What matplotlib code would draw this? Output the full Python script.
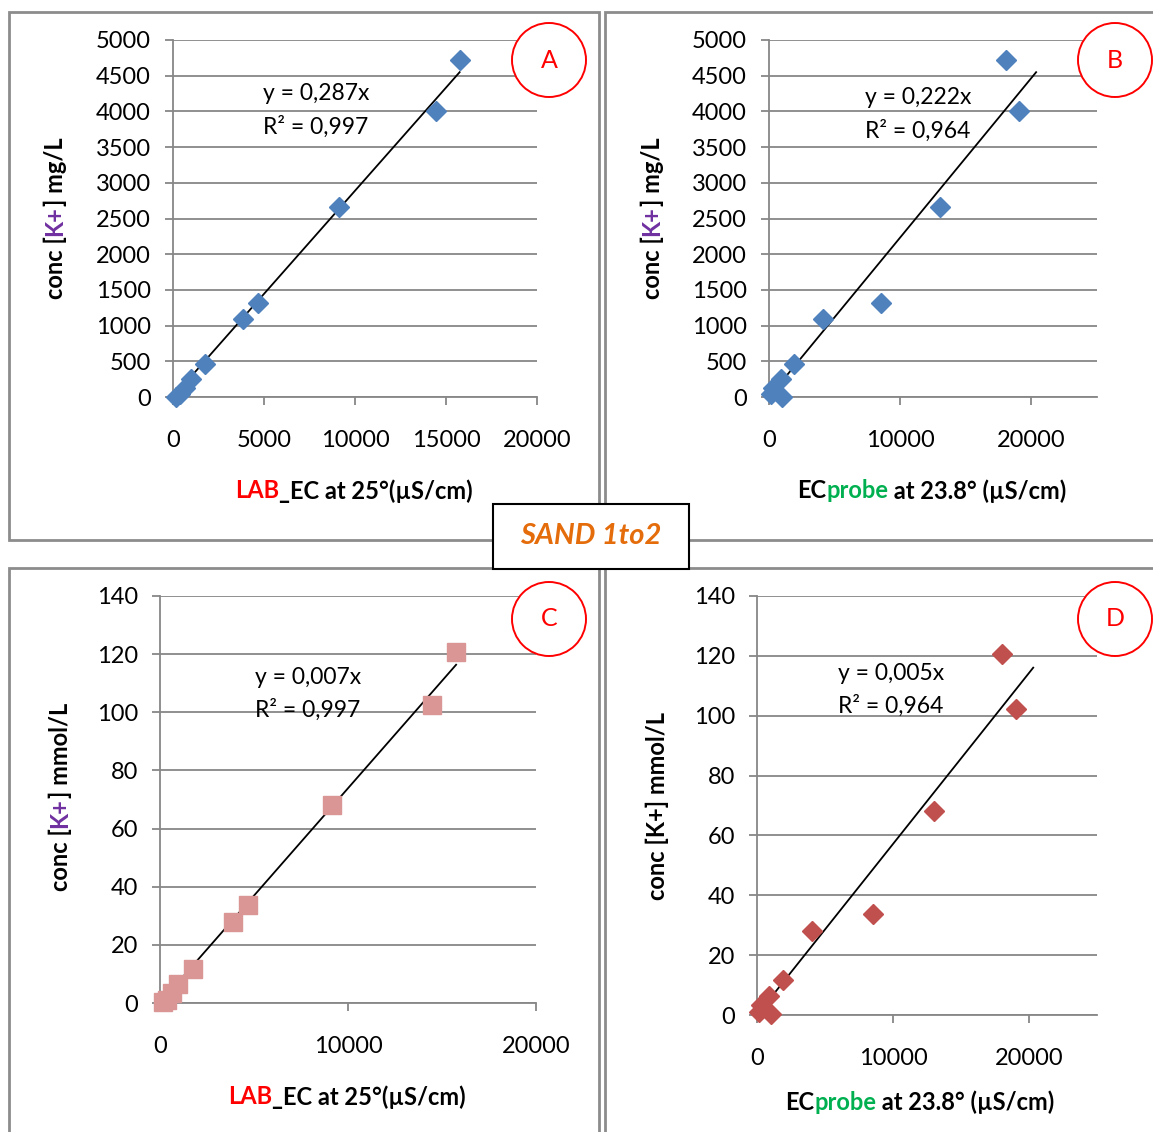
import numpy as np
import matplotlib
matplotlib.use('Agg')
import matplotlib.pyplot as plt
from matplotlib.patches import Rectangle, Ellipse

# data (same samples, two EC methods)
lab_ec = [15750, 14460, 9130, 4670, 3860, 1760, 980, 650, 380, 170]
probe_ec = [18050, 19060, 13040, 8500, 4080, 1880, 890, 330, 150, 1000]
k_mg = [4720, 4006, 2661, 1317, 1092, 462, 252, 130, 40, 5]
k_mmol = [120.7, 102.4, 68.1, 33.7, 28.0, 11.8, 6.4, 3.3, 1.0, 0.2]

eq_labels = {
    'A': ('y = 0,287x', 'R² = 0,997'),
    'B': ('y = 0,222x', 'R² = 0,964'),
    'C': ('y = 0,007x', 'R² = 0,997'),
    'D': ('y = 0,005x', 'R² = 0,964'),
}
# excel "forecast forward" on the probe trendlines
forward = {'A': 0, 'B': 1300, 'C': 0, 'D': 1250}

GRID = '#878787'
FRAME = '#8c8c8c'
PURPLE = '#7030A0'
GREEN = '#00B050'
RED = '#FF0000'

plt.rcParams['font.family'] = ['Lato', 'DejaVu Sans']

W, H = 1153, 1132
fig = plt.figure(figsize=(W / 100, H / 100), dpi=100)
renderer = fig.canvas.get_renderer()


def fx(px):
    return px / W


def fy(py):
    return 1 - py / H


def make_axes(left, top, right, bottom):
    ax = fig.add_axes([fx(left), fy(bottom), (right - left) / W, (bottom - top) / H])
    ax.set_facecolor('none')
    for side in ['top', 'right']:
        ax.spines[side].set_visible(False)
    for side in ['left', 'bottom']:
        ax.spines[side].set_color(GRID)
        ax.spines[side].set_linewidth(1.3)
    ax.grid(axis='y', color=GRID, linewidth=1.3)
    ax.set_axisbelow(True)
    ax.tick_params(direction='out', length=6, width=1.3, color=GRID, labelsize=17)
    ax.tick_params(axis='x', pad=18)
    ax.tick_params(axis='y', pad=10)
    return ax


def text_width(s, **props):
    # width incl. spaces, measured between two bars
    t1 = fig.text(0, 0, '|' + s + '|', **props)
    t2 = fig.text(0, 0, '||', **props)
    w = t1.get_window_extent(renderer).width - t2.get_window_extent(renderer).width
    t1.remove()
    t2.remove()
    return w


def rich_text(x, y, parts, rotation=0, size=17):
    props = dict(fontsize=size, fontweight='bold')
    widths = [text_width(s, **props) for s, _ in parts]
    pos = -sum(widths) / 2
    for (s, c), w in zip(parts, widths):
        if rotation == 0:
            px, py = x + pos, y
        else:
            px, py = x, y - pos
        fig.text(fx(px), fy(py), s, color=c, rotation=rotation, rotation_mode='anchor',
                 ha='left', va='center', **props)
        pos += w


def trendline(ax, x, y, ahead=0):
    x = np.array(x, dtype=float)
    y = np.array(y, dtype=float)
    slope = np.sum(x * y) / np.sum(x * x)
    xs = np.array([x.min(), x.max() + ahead])
    ax.plot(xs, slope * xs, color='black', linewidth=1.3, zorder=3, clip_on=False)


# panel frames
for (l, t, r, b) in [(9, 12, 599, 540), (605, 12, 1165, 540),
                     (9, 568, 599, 1145), (605, 568, 1165, 1145)]:
    fig.add_artist(Rectangle((fx(l), fy(b)), (r - l) / W, (b - t) / H, transform=fig.transFigure,
                             fill=False, edgecolor=FRAME, linewidth=2, zorder=0))

# A: lab EC vs mg/L
axA = make_axes(173, 40, 537, 397)
axA.plot(lab_ec, k_mg, 'D', color='#4F81BD', markersize=10, clip_on=False, zorder=4)
trendline(axA, lab_ec, k_mg, forward['A'])
axA.set_xlim(0, 20000)
axA.set_ylim(0, 5000)
axA.set_xticks(np.arange(0, 20001, 5000))
axA.set_yticks(np.arange(0, 5001, 500))

# B: probe EC vs mg/L
axB = make_axes(769, 40, 1097, 397)
axB.plot(probe_ec, k_mg, 'D', color='#4F81BD', markersize=10, clip_on=False, zorder=4)
trendline(axB, probe_ec, k_mg, forward['B'])
axB.set_xlim(0, 25000)
axB.set_ylim(0, 5000)
axB.set_xticks([0, 10000, 20000])
axB.set_yticks(np.arange(0, 5001, 500))

# C: lab EC vs mmol/L
axC = make_axes(160, 596, 536, 1003)
axC.plot(lab_ec, k_mmol, 's', color='#D99694', markersize=13.5, clip_on=False, zorder=4)
trendline(axC, lab_ec, k_mmol, forward['C'])
axC.set_xlim(0, 20000)
axC.set_ylim(0, 140)
axC.set_xticks([0, 10000, 20000])
axC.set_yticks(np.arange(0, 141, 20))

# D: probe EC vs mmol/L
axD = make_axes(757, 596, 1097, 1015)
axD.plot(probe_ec, k_mmol, 'D', color='#C0504D', markersize=10.5, clip_on=False, zorder=4)
trendline(axD, probe_ec, k_mmol, forward['D'])
axD.set_xlim(0, 25000)
axD.set_ylim(0, 140)
axD.set_xticks([0, 10000, 20000])
axD.set_yticks(np.arange(0, 141, 20))

# equations
for key, (x, y) in {'A': (263, 94), 'B': (865, 98), 'C': (255, 677), 'D': (838, 673)}.items():
    line1, line2 = eq_labels[key]
    fig.text(fx(x), fy(y), line1, fontsize=16.5, ha='left', va='center')
    fig.text(fx(x), fy(y + 33), line2, fontsize=16.5, ha='left', va='center')

# axis titles with coloured parts
rich_text(55, 218, [('conc [', 'black'), ('K+', PURPLE), ('] mg/L', 'black')], rotation=90)
rich_text(652, 218, [('conc [', 'black'), ('K+', PURPLE), ('] mg/L', 'black')], rotation=90)
rich_text(60, 797, [('conc [', 'black'), ('K+', PURPLE), ('] mmol/L', 'black')], rotation=90)
rich_text(657, 806, [('conc [K+] mmol/L', 'black')], rotation=90)
rich_text(354, 491, [('LAB', RED), ('_EC at 25°(µS/cm)', 'black')])
rich_text(932, 491, [('EC', 'black'), ('probe', GREEN), (' at 23.8° (µS/cm)', 'black')])
rich_text(347, 1097, [('LAB', RED), ('_EC at 25°(µS/cm)', 'black')])
rich_text(920, 1102, [('EC', 'black'), ('probe', GREEN), (' at 23.8° (µS/cm)', 'black')])

# panel letters in red circles
for letter, (cx, cy) in {'A': (549, 60), 'B': (1115, 60), 'C': (549, 619), 'D': (1115, 619)}.items():
    fig.add_artist(Ellipse((fx(cx), fy(cy)), 74 / W, 74 / H, transform=fig.transFigure,
                           facecolor='white', edgecolor=RED, linewidth=1.4, zorder=5))
    fig.text(fx(cx), fy(cy), letter, color=RED, fontsize=18, ha='center', va='center', zorder=6)

# centre title box
fig.add_artist(Rectangle((fx(493), fy(569)), 196 / W, 65 / H, transform=fig.transFigure,
                         facecolor='white', edgecolor='black', linewidth=1.5, zorder=5))
fig.text(fx(591), fy(536), 'SAND 1to2', color='#E46C0A', fontsize=21, fontweight='bold',
         fontstyle='italic', ha='center', va='center', zorder=6)

fig.savefig('out.png', dpi=100)
